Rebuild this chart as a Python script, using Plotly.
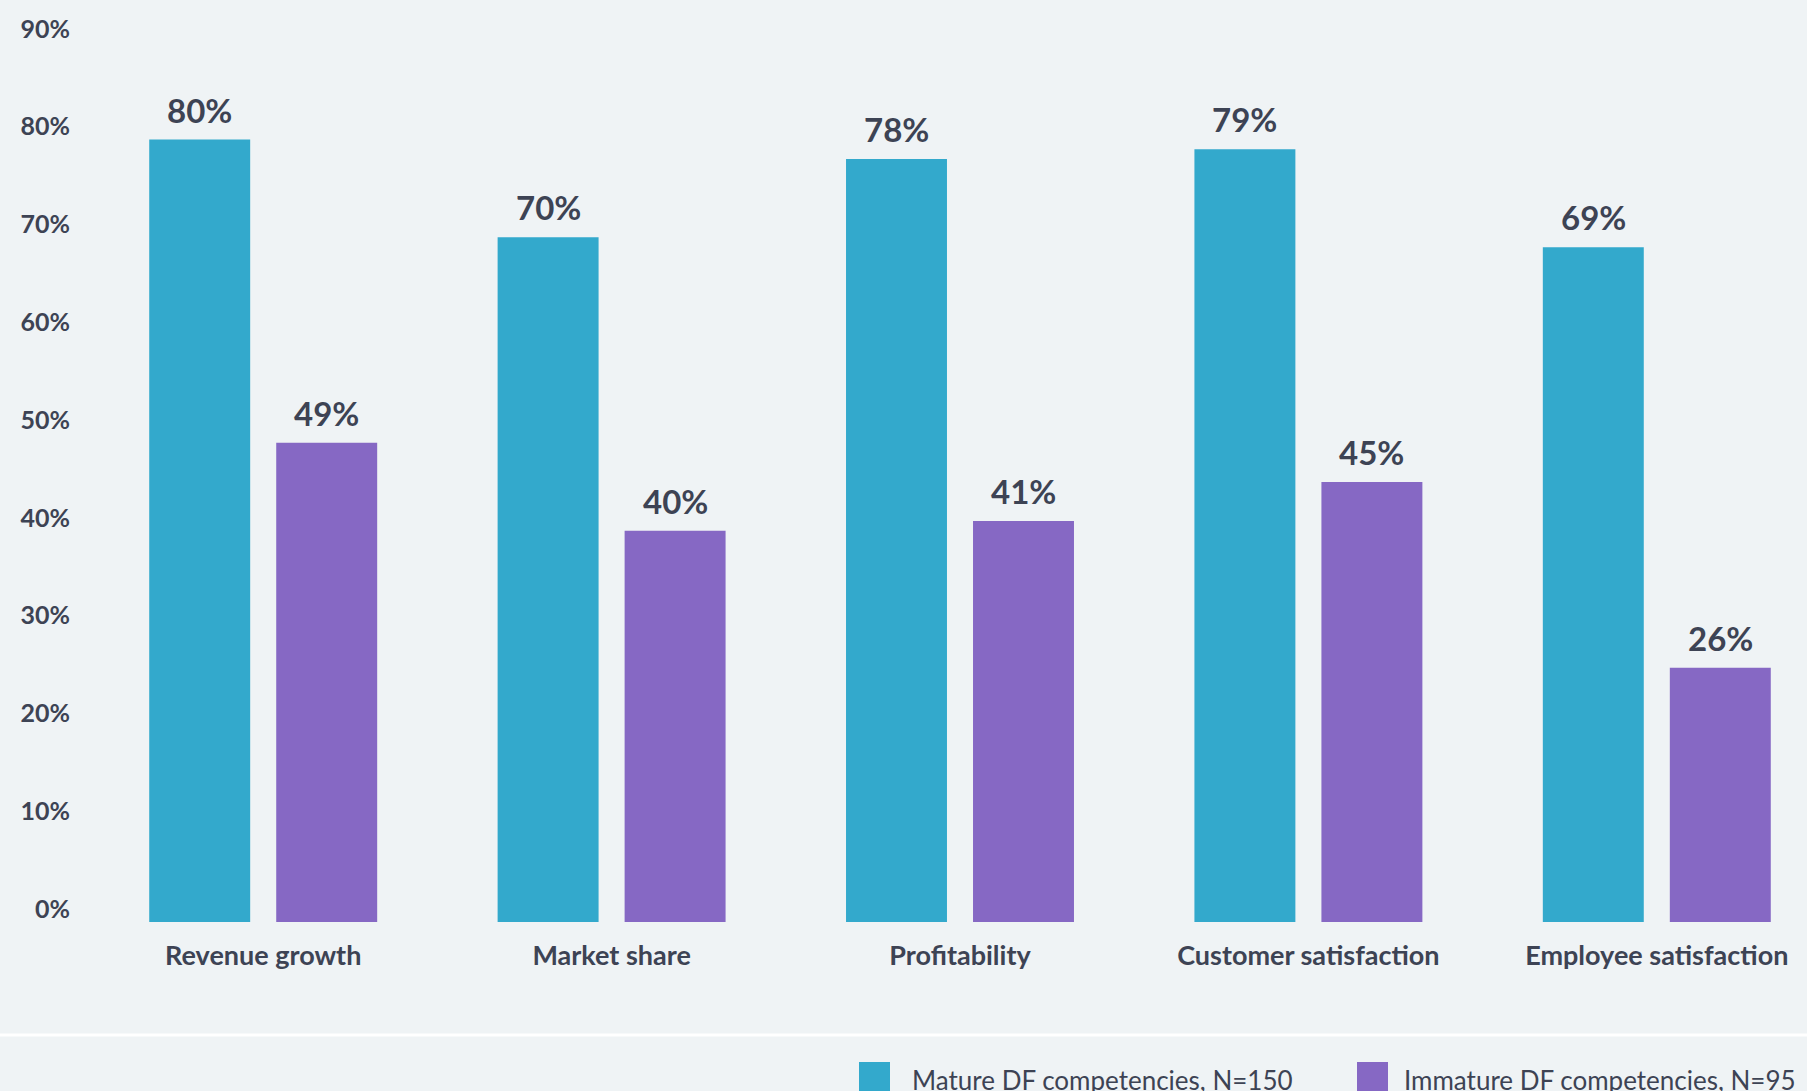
import plotly.graph_objects as go

categories = ["Revenue growth", "Market share", "Profitability", "Customer satisfaction", "Employee satisfaction"]
mature = [80, 70, 78, 79, 69]
immature = [49, 40, 41, 45, 26]
series_names = ["Mature DF competencies, N=150", "Immature DF competencies, N=95"]
colors = ["#33a9cc", "#8668c4"]
text_color = "#3d4354"
bg = "#eff3f5"

W, H = 1807, 1091
L, R, T, B = 89, 0, 31, 169
plot_w = W - L - R
plot_h = H - T - B

fig = go.Figure()
for vals, name, col in zip([mature, immature], series_names, colors):
    fig.add_trace(go.Bar(x=categories, y=vals, name=name, marker=dict(color=col, line=dict(width=0)),
                         showlegend=False, hoverinfo="x+y"))

# value labels
for vals, xs in zip([mature, immature], [-63.5, 63.5]):
    for c, v in zip(categories, vals):
        fig.add_annotation(x=c, y=v, xref="x", yref="y", text=f"{v}%", showarrow=False,
                           xshift=xs, yshift=8, yanchor="bottom",
                           font=dict(family="Lato", size=33, color=text_color, weight=700))

def px_x(X):
    return (X - L) / plot_w

def px_y(Y):
    return (H - B - Y) / plot_h

# separator line
fig.add_shape(type="line", xref="paper", yref="paper", x0=px_x(0), x1=px_x(W), y0=px_y(1035), y1=px_y(1035),
              line=dict(color="white", width=3))

# legend (manual)
leg_items = [(859, 910), (1357, 1402)]
for (sq_x, tx_x), name, col in zip(leg_items, series_names, colors):
    fig.add_shape(type="rect", xref="paper", yref="paper", x0=px_x(sq_x), x1=px_x(sq_x + 31),
                  y0=px_y(1062), y1=px_y(1100), fillcolor=col, line=dict(width=0))
    fig.add_annotation(xref="paper", yref="paper", x=px_x(tx_x), y=px_y(1062), text=name, showarrow=False,
                       xanchor="left", yanchor="top", yshift=0,
                       font=dict(family="Lato", size=26, color=text_color))

fig.update_layout(
    width=W, height=H,
    margin=dict(l=L, r=R, t=T, b=B, pad=0),
    paper_bgcolor=bg, plot_bgcolor=bg,
    barmode="group", bargap=0.271, bargroupgap=0.205,
    font=dict(family="Lato", color=text_color),
)
fig.update_xaxes(range=[-0.5, -0.5 + plot_w / 348.4], showgrid=False, zeroline=False, showline=False,
                 ticks="", ticklabelstandoff=15,
                 tickfont=dict(family="Lato", size=27, color=text_color, weight=700))
fig.update_yaxes(range=[0, 91.1], dtick=10, ticksuffix="%", showgrid=False, zeroline=False, showline=False,
                 ticks="", ticklabelstandoff=18, ticklabelshift=-13,
                 tickfont=dict(family="Lato", size=25, color=text_color, weight=700))

fig.write_html("out.html")
